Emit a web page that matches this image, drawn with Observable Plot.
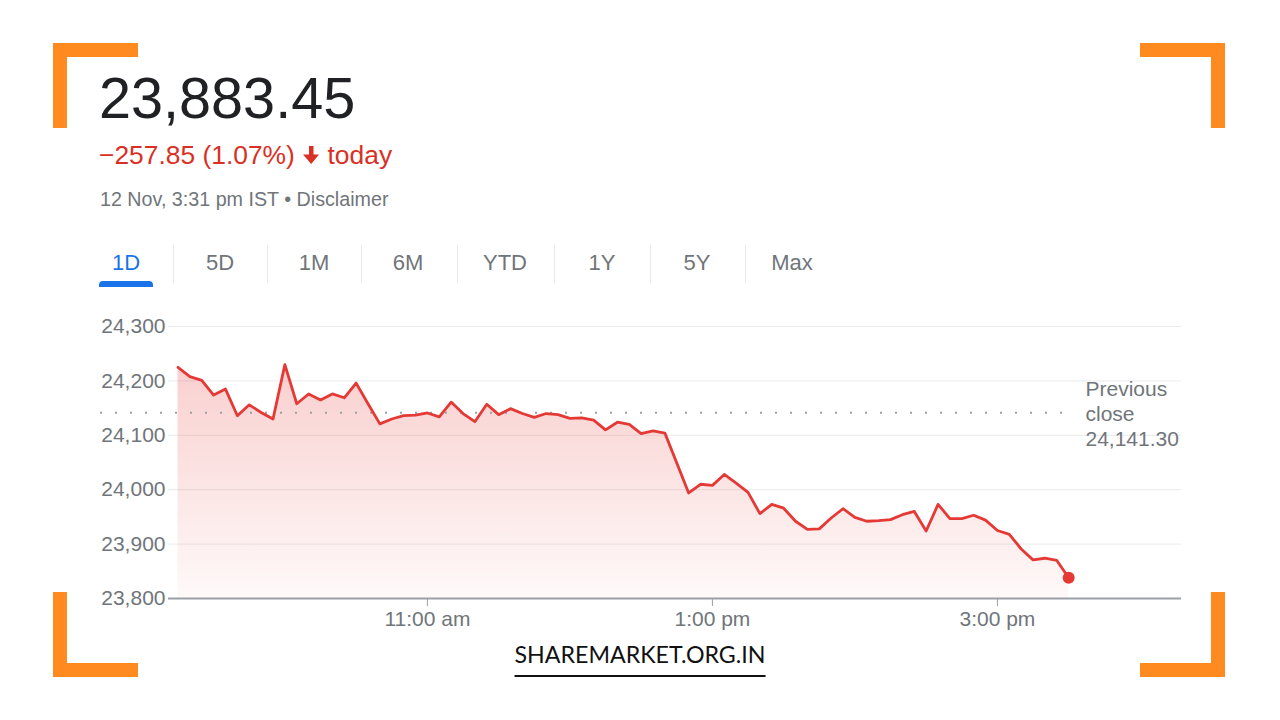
<!DOCTYPE html>
<html>
<head>
<meta charset="utf-8">
<script src="https://cdn.jsdelivr.net/npm/d3@7"></script>
<script src="https://cdn.jsdelivr.net/npm/@observablehq/plot@0.6"></script>
<style>
  html, body { margin: 0; padding: 0; background: #fff; }
  #page { position: relative; width: 1280px; height: 720px; overflow: hidden; background: #fff; font-family: "Liberation Sans", Arial, sans-serif; }
  .abs { position: absolute; white-space: nowrap; line-height: 1; }
  .bracket { position: absolute; background: #ff8a1f; }
  .tab { position: absolute; top: 252px; font-size: 22px; color: #70757a; transform: translateX(-50%); line-height: 1; }
  .sep { position: absolute; top: 245px; width: 1px; height: 38px; background: #e8eaed; }
  #chart { position: absolute; left: 0; top: 300px; }
</style>
</head>
<body>
<div id="page">
  <!-- corner brackets -->
  <div class="bracket" style="left:53px;top:43px;width:85px;height:14px"></div>
  <div class="bracket" style="left:53px;top:43px;width:14px;height:85px"></div>
  <div class="bracket" style="left:1140px;top:43px;width:85px;height:14px"></div>
  <div class="bracket" style="left:1211px;top:43px;width:14px;height:85px"></div>
  <div class="bracket" style="left:53px;top:663px;width:85px;height:14px"></div>
  <div class="bracket" style="left:53px;top:592px;width:14px;height:85px"></div>
  <div class="bracket" style="left:1140px;top:663px;width:85px;height:14px"></div>
  <div class="bracket" style="left:1211px;top:592px;width:14px;height:85px"></div>

  <div id="price" class="abs" style="left:99px;top:70px;font-size:57.6px;color:#202124"></div>
  <div id="change" class="abs" style="left:99px;top:142px;font-size:26.4px;color:#d93025"></div>
  <div id="stamp" class="abs" style="left:100px;top:190px;font-size:19.7px;color:#70757a"></div>

  <div id="tabs"></div>
  <div style="position:absolute;left:99px;top:281px;width:54px;height:6px;background:#1a73e8;border-radius:4px 4px 0 0"></div>

  <div id="chart"></div>

  <div id="brand" class="abs" style="left:640px;top:643px;transform:translateX(-50%);font-family:Lato, 'Noto Sans', sans-serif;font-size:23.2px;color:#111;padding-bottom:9px;border-bottom:2px solid #111"></div>
</div>
<script>
// ---- data ----
const priceText = "23,883.45";
const changeText = "\u2212257.85 (1.07%)";
const stampText = "12 Nov, 3:31 pm IST \u2022 Disclaimer";
const tabLabels = ["1D", "5D", "1M", "6M", "YTD", "1Y", "5Y", "Max"];
const brandText = "SHAREMARKET.ORG.IN";
const previousClose = 24141.30;
const previousCloseLabel = "Previous\nclose\n24,141.30";

const times = [
  "09:15","09:20","09:25","09:30","09:35","09:40","09:45","09:50","09:55","10:00",
  "10:05","10:10","10:15","10:20","10:25","10:30","10:35","10:40","10:45","10:50",
  "10:55","11:00","11:05","11:10","11:15","11:20","11:25","11:30","11:35","11:40",
  "11:45","11:50","11:55","12:00","12:05","12:10","12:15","12:20","12:25","12:30",
  "12:35","12:40","12:45","12:50","12:55","13:00","13:05","13:10","13:15","13:20",
  "13:25","13:30","13:35","13:40","13:45","13:50","13:55","14:00","14:05","14:10",
  "14:15","14:20","14:25","14:30","14:35","14:40","14:45","14:50","14:55","15:00",
  "15:05","15:10","15:15","15:20","15:25","15:30"
];
const values = [
  24225,24208,24201,24174,24185,24136,24156,24142,24130,24230,
  24158,24176,24165,24176,24169,24196,24158,24121,24130,24136,
  24137,24141,24134,24161,24140,24125,24157,24138,24149,24140,
  24133,24140,24138,24131,24132,24128,24110,24124,24120,24103,
  24108,24104,24049,23994,24010,24008,24028,24012,23995,23956,
  23973,23966,23942,23927,23928,23948,23965,23949,23942,23943,
  23945,23954,23960,23924,23973,23947,23947,23953,23944,23925,
  23918,23891,23871,23874,23870,23838
];
const yTicks = [23800, 23900, 24000, 24100, 24200, 24300];
const xTickTimes = ["11:00", "13:00", "15:00"];
const xTickLabels = ["11:00 am", "1:00 pm", "3:00 pm"];
const xDomain = ["09:11", "16:17:30"];

// ---- header text ----
document.getElementById("price").textContent = priceText;
document.getElementById("change").innerHTML = changeText +
  ' <svg width="18" height="19" viewBox="0 0 18 19" style="vertical-align:-1px"><rect x="7" y="0" width="4.5" height="10" fill="#d93025"/><polygon points="1,8.5 17,8.5 9.2,18" fill="#d93025"/></svg> today';
document.getElementById("stamp").textContent = stampText;
document.getElementById("brand").textContent = brandText;

const tabCenters = [126, 220, 314, 408, 505, 602, 697, 792];
const tabsEl = document.getElementById("tabs");
tabLabels.forEach((t, i) => {
  const d = document.createElement("div");
  d.className = "tab";
  d.style.left = tabCenters[i] + "px";
  d.textContent = t;
  if (i === 0) d.style.color = "#1a73e8";
  tabsEl.appendChild(d);
  if (i > 0) {
    const s = document.createElement("div");
    s.className = "sep";
    s.style.left = Math.round((tabCenters[i - 1] + tabCenters[i]) / 2) + "px";
    tabsEl.appendChild(s);
  }
});

// ---- chart ----
const parseT = s => d3.utcParse(s.length > 5 ? "%H:%M:%S" : "%H:%M")(s);
const data = times.map((t, i) => ({time: parseT(t), value: values[i]}));
const last = data[data.length - 1];
const red = "#e53935";
const gray = "#70757a";

const gradient = () => {
  const ns = "http://www.w3.org/2000/svg";
  const defs = document.createElementNS(ns, "defs");
  const lg = document.createElementNS(ns, "linearGradient");
  lg.setAttribute("id", "areaGrad");
  lg.setAttribute("x1", "0"); lg.setAttribute("y1", "0");
  lg.setAttribute("x2", "0"); lg.setAttribute("y2", "1");
  [["0%", 0.24], ["100%", 0.03]].forEach(([o, a]) => {
    const st = document.createElementNS(ns, "stop");
    st.setAttribute("offset", o);
    st.setAttribute("stop-color", red);
    st.setAttribute("stop-opacity", a);
    lg.appendChild(st);
  });
  defs.appendChild(lg);
  return defs;
};

const chart = Plot.plot({
  width: 1280,
  height: 340,
  marginLeft: 168,
  marginRight: 99,
  marginTop: 26,
  marginBottom: 42,
  style: {fontFamily: "'Liberation Sans', Arial, sans-serif", background: "transparent", overflow: "visible"},
  x: {type: "utc", domain: xDomain.map(parseT)},
  y: {domain: [23800, 24300]},
  marks: [
    gradient,
    Plot.gridY(yTicks.slice(1), {stroke: "#e8eaed", strokeOpacity: 1, strokeWidth: 1}),
    Plot.areaY(data, {x: "time", y1: 23800, y2: "value", fill: "url(#areaGrad)"}),
    Plot.ruleY([previousClose], {stroke: "#9aa0a6", strokeWidth: 2, strokeDasharray: "2 13", insetLeft: -68, insetRight: 106}),
    Plot.text([previousClose], {y: d => d, frameAnchor: "right", dx: -96, textAnchor: "start", lineHeight: 1.2, text: () => previousCloseLabel, fill: gray, fontSize: 21}),
    Plot.ruleY([23800], {stroke: "#9aa0a6", strokeWidth: 2}),
    Plot.axisY({ticks: yTicks, tickSize: 0, tickPadding: 3, fontSize: 21, color: gray, label: null, tickFormat: d3.format(",")}),
    Plot.axisX({ticks: xTickTimes.map(parseT), tickFormat: (d, i) => xTickLabels[i], tickSize: 8, tickPadding: 5, fontSize: 21, color: gray, stroke: "#9aa0a6", label: null}),
    Plot.line(data, {x: "time", y: "value", stroke: red, strokeWidth: 2.8, strokeLinejoin: "round"}),
    Plot.dot([last], {x: "time", y: "value", r: 6, fill: red})
  ]
});
document.getElementById("chart").appendChild(chart);
</script>
</body>
</html>
